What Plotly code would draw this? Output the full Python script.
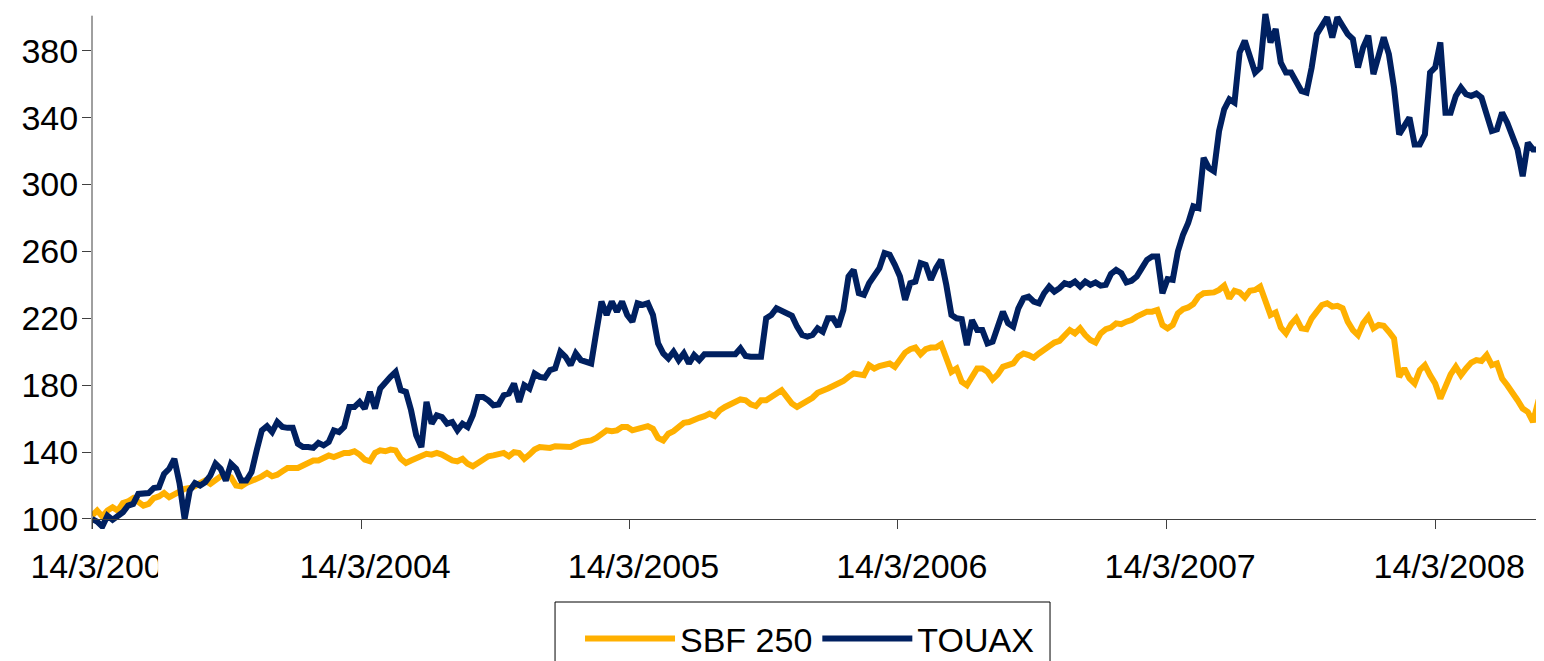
import pandas as pd
import plotly.graph_objects as go

start_date = "2003-03-14"

touax = [
    100, 98.4, 95.5, 102, 99.5, 102, 104, 108, 109, 115,
    115.5, 115.5, 118.5, 119, 127, 130, 136, 121.5, 100, 117,
    121.5, 120, 122, 126, 133, 130, 123, 133, 130, 123,
    123, 128, 141, 153, 155.5, 152, 158, 155, 154.5, 154.5,
    145, 143, 143, 142.5, 145.5, 144, 146, 153, 152, 155,
    167, 167, 170, 166, 176, 166, 178, 182, 185, 188,
    177, 176, 165, 150, 143, 170, 157, 162, 161, 157,
    158, 153, 157, 155, 162, 173, 173, 171, 168, 168.5,
    174, 175, 181, 170, 180, 178, 187, 185, 184.5, 189,
    190, 200, 197, 192, 199, 195, 194, 193, 212, 230,
    222, 230, 224, 230, 222, 218, 229, 228, 229, 222,
    205, 199, 196, 200, 195, 199, 193, 198, 195, 198.5,
    198.5, 198.5, 198.5, 198.5, 198.5, 198.5, 202, 197.5, 197, 197,
    197, 220, 222, 226, 224.5, 222.5, 221.5, 215, 210, 209,
    210, 214, 212, 220, 220, 215, 225, 245, 249, 235,
    234, 241, 245, 250, 259, 258, 252, 245, 231, 241,
    242, 253, 252, 243, 250, 255, 240, 222, 220, 219.5,
    204, 219, 213, 213, 205, 206, 215, 224, 217, 215,
    226, 232, 233, 230, 229, 235, 239, 236, 238, 241,
    240, 242, 239, 242, 240, 241.5, 239.5, 240, 246.5, 249,
    247, 241.5, 242.5, 245, 250, 255, 257, 257, 235, 243.5,
    243, 260, 270, 277, 287, 286, 316, 310, 308, 332,
    345, 351, 349, 379, 386, 376, 367, 370, 402, 385,
    393, 373, 367, 367, 362, 356, 355, 370, 390, 395,
    400, 388, 400, 395, 390, 387, 370, 382, 389, 366,
    378, 388, 378, 358, 330, 335, 340, 324, 324, 330,
    367, 370, 385, 343, 343, 353, 358, 354, 353, 354.5,
    352, 342, 332, 333, 343, 337, 328, 321, 305, 325,
    321, 321, 319, 322,
]

sbf250 = [
    102, 105, 101.5, 105, 107, 105, 109.5, 110.5, 112.5, 110,
    108, 109, 112.5, 113.5, 115.5, 113, 115, 117, 118, 118.5,
    119.5, 121.5, 123, 121, 123.5, 125.5, 126, 125, 120, 119.5,
    121.5, 122.5, 124, 125.5, 127.5, 125.5, 126.5, 128.5, 130.5, 130.5,
    130.5, 132, 133.5, 135, 135, 136.5, 138, 137, 138, 139.5,
    139.5, 140.5, 138.5, 135.5, 134.5, 139.5, 141, 140.5, 141.5, 141,
    136, 133.5, 135, 136.5, 137.5, 139, 138.5, 139.5, 138.5, 136.5,
    135, 134.5, 136, 133, 131.5, 133.5, 136, 137.5, 138, 138.5,
    139.5, 137.5, 140, 139.5, 136, 138.5, 141.5, 143, 143, 142.5,
    143.5, 143.5, 143, 143, 144.5, 146, 146.5, 147, 148.5, 151,
    153, 152.5, 153, 155, 155, 153, 154, 154.5, 155.5, 154,
    148.5, 147, 151, 152.5, 155, 157.5, 158, 159.5, 160.5, 161.5,
    163, 161.5, 165, 167, 168.5, 170, 171.5, 171, 168.5, 167.5,
    171, 171, 173, 176, 177, 173, 169, 167, 168.5, 171,
    172.5, 175.5, 176.5, 178, 179.5, 181, 182.5, 185, 187, 186.5,
    186, 192, 190, 191.5, 192.5, 193, 191, 196, 199.5, 201.5,
    202.5, 198.5, 201.5, 202.5, 202.5, 204.5, 197, 188, 190, 182,
    180, 185, 190, 190, 188, 183.5, 186.5, 191, 192, 193,
    197, 199, 198, 196.5, 199, 201.5, 203.5, 205.5, 206.5, 209.5,
    213, 211, 214, 210, 207, 205.5, 211, 213.5, 214.5, 217,
    216.5, 218, 219, 221, 223, 224, 224, 225, 216, 214,
    216, 223, 225.5, 226.5, 228.5, 233, 235, 235.5, 235.5, 237,
    239.5, 232, 236.5, 235.5, 232.5, 236.5, 237, 239, 231, 222,
    223.5, 214.5, 211, 216.5, 220, 214, 213.5, 220, 224, 228,
    229, 227, 227.5, 226, 218, 213, 210, 217, 221, 214,
    216, 215.5, 212, 208, 185, 190, 184, 181, 189, 192,
    186, 181, 172, 180, 186.5, 191, 186, 190, 193.5, 195,
    194.5, 198, 192, 193, 184, 180, 176, 171, 166, 164,
    158, 170, 170, 174,
]

tick_dates = ["2003-03-14", "2004-03-14", "2005-03-14", "2006-03-14", "2007-03-14", "2008-03-14"]
tick_labels = ["14/3/2003", "14/3/2004", "14/3/2005", "14/3/2006", "14/3/2007", "14/3/2008"]
y_ticks = [100, 140, 180, 220, 260, 300, 340, 380]

dates = pd.date_range(start_date, periods=len(touax), freq="7D")

ORANGE = "#FFB000"
NAVY = "#002060"
AXIS = "#404040"

fig = go.Figure()
fig.add_trace(go.Scatter(x=dates, y=sbf250, name="SBF 250", mode="lines",
                         line=dict(color=ORANGE, width=6)))
fig.add_trace(go.Scatter(x=dates, y=touax, name="TOUAX", mode="lines",
                         line=dict(color=NAVY, width=6)))

# page body has an 8px default margin, so the figure is 8px smaller than the window
fig.update_layout(
    width=1536, height=653,
    margin=dict(l=84, r=0, t=1, b=132, autoexpand=False),
    plot_bgcolor="white", paper_bgcolor="white",
    font=dict(family="Liberation Sans, Arial, sans-serif", size=34, color="black"),
    showlegend=True,
    xaxis=dict(
        type="date", range=["2003-03-14", "2008-08-09"],
        tickvals=tick_dates, ticktext=tick_labels,
        showgrid=False, zeroline=False,
        showline=True, linecolor=AXIS, linewidth=1,
        ticks="outside", ticklen=9, tickcolor=AXIS, tickwidth=1,
        anchor="free", position=(100 - 94) / (405 - 94),
        ticklabelshift=14, ticklabelstandoff=8, automargin=False,
    ),
    yaxis=dict(
        range=[94, 405], tickvals=y_ticks,
        showgrid=False, zeroline=False, showline=False,
        ticks="outside", ticklen=9, tickcolor=AXIS, tickwidth=1,
        ticklabelstandoff=-3, automargin=False,
    ),
    legend=dict(
        orientation="h", x=0.3361, xanchor="left", y=-0.1558, yanchor="top",
        borderwidth=0, bgcolor="rgba(0,0,0,0)",
        font=dict(size=34), itemwidth=90,
    ),
    shapes=[
        dict(type="line", xref="paper", yref="y", x0=0, x1=0, y0=94, y1=401,
             line=dict(color=AXIS, width=1)),
        dict(type="rect", xref="paper", yref="paper", x0=0.0455, x1=0.0868,
             y0=0.0135, y1=-0.14, fillcolor="white", line=dict(width=0), layer="above"),
        dict(type="rect", xref="paper", yref="paper", x0=0.3189, x1=0.6598,
             y0=-0.1404, y1=-0.40, fillcolor="white",
             line=dict(color="black", width=1), layer="below"),
    ],
)

fig.write_html("out.html")
